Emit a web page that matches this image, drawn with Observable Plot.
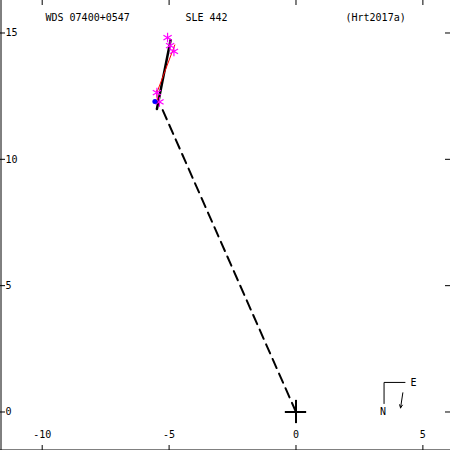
<!DOCTYPE html>
<html>
<head>
<meta charset="utf-8">
<script src="https://cdn.jsdelivr.net/npm/d3@7"></script>
<script src="https://cdn.jsdelivr.net/npm/@observablehq/plot@0.6"></script>
<style>
  html, body { margin: 0; padding: 0; background: #fff; }
  #chart svg { display: block; }
</style>
</head>
<body>
<div id="chart"></div>
<script>
// Axis ticks
const xTicks = [-10, -5, 0, 5];
const xTickLabels = ["-10", "-5", "0", "5"];
const yTicks = [0, 5, 10, 15];
const yTickLabels = ["0", "5", "10", "15"];

// Header texts
const headerTexts = ["WDS 07400+0547", "SLE 442", "(Hrt2017a)"];

// Observed positions (magenta asterisks)
const obsX = [-5.06, -4.96, -4.81, -5.48, -5.38];
const obsY = [14.82, 14.50, 14.27, 12.64, 12.27];

// First measurement (blue dot)
const firstX = [-5.56];
const firstY = [12.29];

// Orbit arc (black)
const orbitX = [-5.48, -4.94];
const orbitY = [11.99, 14.72];

// O-C residual lines (red)
const resX1 = [-5.48, -5.50];
const resY1 = [12.64, 12.74];
const resX2 = [-4.77, -5.46];
const resY2 = [14.54, 12.35];

// Line from primary to periastron (dashed)
const nodeX = [0, -5.34];
const nodeY = [0, 12.15];

// Primary marker (cross) half sizes
const crossHalfX = [0.42];
const crossHalfY = [0.46];

// Compass (N / E) and direction-of-motion arrow
const compassCorner = [3.47, 1.17];
const compassEEnd = [4.31];
const compassNEnd = [0.32];
const compassLabels = ["N", "E"];
const compassLabelX = [3.43, 4.63];
const compassLabelY = [0.0, 1.17];
const arrowFrom = [4.21, 0.76];
const arrowTo = [4.12, 0.16];

const xDomain = [-11.643, 6.088];
const yDomain = [-1.524, 16.286];

const W = 450, H = 450;
const tickLen = 5;

const obs = obsX.map((x, i) => ({x, y: obsY[i]}));
const res = resX1.map((x, i) => ({x1: x, y1: resY1[i], x2: resX2[i], y2: resY2[i]}));
const orbit = orbitX.map((x, i) => ({x, y: orbitY[i]}));
const node = nodeX.map((x, i) => ({x, y: nodeY[i]}));
const compassText = compassLabels.map((t, i) => ({t, x: compassLabelX[i], y: compassLabelY[i]}));

const chart = Plot.plot({
  width: W,
  height: H,
  margin: 0,
  x: {domain: xDomain, axis: null},
  y: {domain: yDomain, axis: null},
  style: {fontFamily: "DejaVu Sans Mono, monospace", fontSize: "10px", background: "#fff", color: "#000"},
  marks: [
    // border (left and bottom)
    Plot.ruleX([xDomain[0]], {dx: 0.5, stroke: "#000"}),
    Plot.ruleY([yDomain[0]], {dy: -0.5, stroke: "#000"}),
    // ticks
    Plot.tickX(xTicks, {x: d => d, insetBottom: H - tickLen, stroke: "#000"}),
    Plot.tickX(xTicks, {x: d => d, insetTop: H - tickLen, stroke: "#000"}),
    Plot.tickY(yTicks, {y: d => d, insetRight: W - tickLen, stroke: "#000"}),
    Plot.tickY(yTicks, {y: d => d, insetLeft: W - tickLen, stroke: "#000"}),
    // tick labels
    Plot.text(xTicks, {x: d => d, text: (d, i) => xTickLabels[i], frameAnchor: "bottom", lineAnchor: "middle", dy: -16, fill: "#000"}),
    Plot.text(yTicks, {y: d => d, text: (d, i) => yTickLabels[i], frameAnchor: "left", dx: 5, textAnchor: "start", fill: "#000"}),
    // header
    Plot.text([headerTexts[0]], {frameAnchor: "top-left", lineAnchor: "middle", dx: 45, dy: 17, textAnchor: "start", fill: "#000"}),
    Plot.text([headerTexts[1]], {frameAnchor: "top-left", lineAnchor: "middle", dx: 185, dy: 17, textAnchor: "start", fill: "#000"}),
    Plot.text([headerTexts[2]], {frameAnchor: "top-left", lineAnchor: "middle", dx: 345, dy: 17, textAnchor: "start", fill: "#000"}),
    // dashed line
    Plot.line(node, {x: "x", y: "y", stroke: "#000", strokeWidth: 2, strokeDasharray: "10,6"}),
    // primary cross
    Plot.ruleY([0], {x1: -crossHalfX[0], x2: crossHalfX[0], stroke: "#000", strokeWidth: 2}),
    Plot.ruleX([0], {y1: -crossHalfY[0], y2: crossHalfY[0], stroke: "#000", strokeWidth: 2}),
    // orbit
    Plot.line(orbit, {x: "x", y: "y", stroke: "#000", strokeWidth: 2.5}),
    // residuals
    Plot.link(res, {x1: "x1", y1: "y1", x2: "x2", y2: "y2", stroke: "#ff0000", strokeWidth: 1}),
    // observations
    Plot.dot(obs, {x: "x", y: "y", symbol: "asterisk", r: 4.5, stroke: "#ff00ff", strokeWidth: 1.2}),
    // first measurement
    Plot.dot(firstX.map((x, i) => ({x, y: firstY[i]})), {x: "x", y: "y", r: 2.5, fill: "#0000ff", stroke: "none"}),
    // compass
    Plot.link([{x1: compassCorner[0], y1: compassCorner[1], x2: compassEEnd[0], y2: compassCorner[1]}],
      {x1: "x1", y1: "y1", x2: "x2", y2: "y2", stroke: "#000"}),
    Plot.link([{x1: compassCorner[0], y1: compassCorner[1], x2: compassCorner[0], y2: compassNEnd[0]}],
      {x1: "x1", y1: "y1", x2: "x2", y2: "y2", stroke: "#000"}),
    Plot.text(compassText, {x: "x", y: "y", text: "t", fill: "#000"}),
    Plot.arrow([{x1: arrowFrom[0], y1: arrowFrom[1], x2: arrowTo[0], y2: arrowTo[1]}],
      {x1: "x1", y1: "y1", x2: "x2", y2: "y2", stroke: "#000", strokeWidth: 1, headLength: 5, headAngle: 50})
  ]
});

document.getElementById("chart").append(chart);
</script>
</body>
</html>
